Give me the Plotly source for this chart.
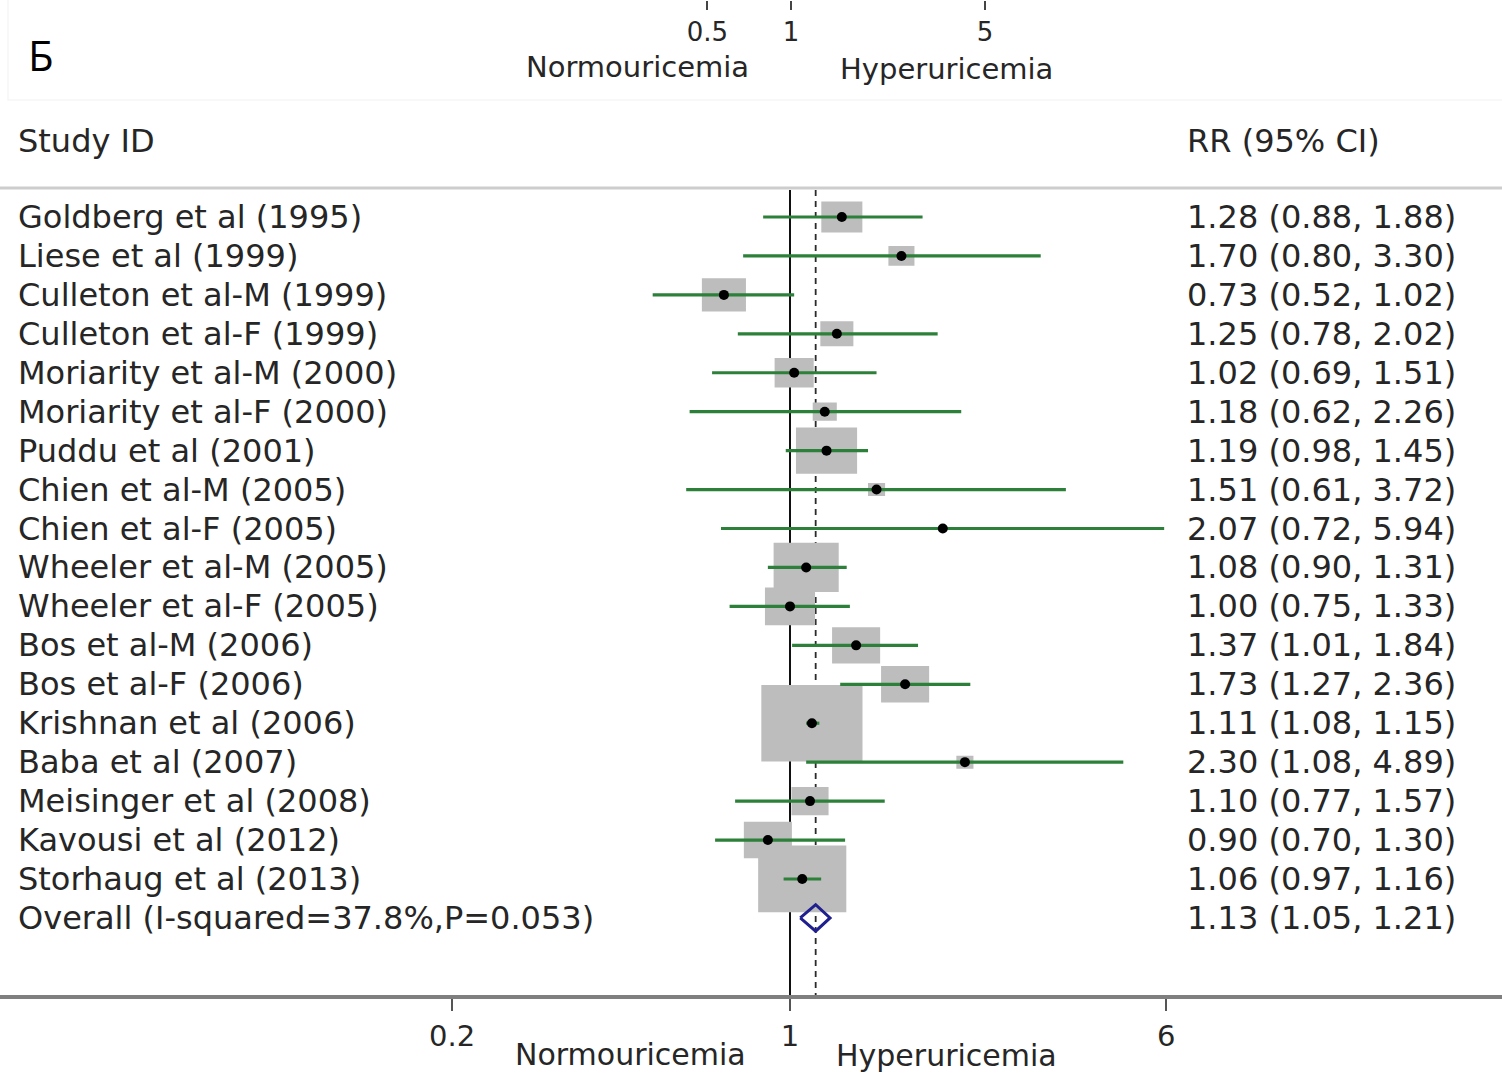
import math
import plotly.graph_objects as go

# ---- study data ----
studies = [
    "Goldberg et al (1995)", "Liese et al (1999)", "Culleton et al-M (1999)",
    "Culleton et al-F (1999)", "Moriarity et al-M (2000)", "Moriarity et al-F (2000)",
    "Puddu et al (2001)", "Chien et al-M (2005)", "Chien et al-F (2005)",
    "Wheeler et al-M (2005)", "Wheeler et al-F (2005)", "Bos et al-M (2006)",
    "Bos et al-F (2006)", "Krishnan et al (2006)", "Baba et al (2007)",
    "Meisinger et al (2008)", "Kavousi et al (2012)", "Storhaug et al (2013)",
]
rr = [1.28, 1.70, 0.73, 1.25, 1.02, 1.18, 1.19, 1.51, 2.07,
      1.08, 1.00, 1.37, 1.73, 1.11, 2.30, 1.10, 0.90, 1.06]
ci_low = [0.88, 0.80, 0.52, 0.78, 0.69, 0.62, 0.98, 0.61, 0.72,
          0.90, 0.75, 1.01, 1.27, 1.08, 1.08, 0.77, 0.70, 0.97]
ci_high = [1.88, 3.30, 1.02, 2.02, 1.51, 2.26, 1.45, 3.72, 5.94,
           1.31, 1.33, 1.84, 2.36, 1.15, 4.89, 1.57, 1.30, 1.16]
# study weights (%), shown as box areas
weights = [3.75, 1.51, 4.32, 2.43, 3.40, 1.29, 8.31, 0.65, 0.14,
           9.43, 5.58, 5.14, 5.14, 22.77, 0.65, 3.06, 5.14, 17.29]

overall_label = "Overall (I-squared=37.8%,P=0.053)"
overall_rr, overall_low, overall_high = 1.13, 1.05, 1.21

bottom_ticks = [0.2, 1, 6]
top_ticks = [0.5, 1, 5]
favour_left, favour_right = "Normouricemia", "Hyperuricemia"

# ---- page geometry ----
W, H = 1502, 1075
NULL_PX = 790          # horizontal pixel of RR = 1
PX_PER_LN = 210        # pixels per natural-log unit (main scale)
TOP_NULL_PX = 791
TOP_PX_PER_LN = 120.5  # scale of the upper strip
ROW0_PX = 217          # first study row
ROW_PX = 38.94         # row pitch
BOX_SCALE = 21.2       # box width in px per sqrt(weight %)
BOX_ASPECT = 1.32      # box width / height
FONT = "DejaVu Sans"
TXT = "#262626"
GREEN = "#2c8039"


def ln_to_log10(v):
    return v / math.log(10)


def row_of(py):
    return (py - ROW0_PX) / ROW_PX


def py_paper(py):
    return 1 - py / H


x_range = [ln_to_log10(-NULL_PX / PX_PER_LN), ln_to_log10((W - NULL_PX) / PX_PER_LN)]
x2_range = [ln_to_log10(-TOP_NULL_PX / TOP_PX_PER_LN), ln_to_log10((W - TOP_NULL_PX) / TOP_PX_PER_LN)]
y_range = [row_of(H), row_of(0)]

n = len(studies)
rows = list(range(n))
overall_row = n

fig = go.Figure()

# reference lines: null effect (solid) and pooled estimate (dashed)
y_top, y_bot = row_of(190), row_of(997)
fig.add_trace(go.Scatter(x=[1, 1], y=[y_top, y_bot], mode="lines",
                         line=dict(color="#111111", width=2), hoverinfo="skip"))
fig.add_trace(go.Scatter(x=[overall_rr, overall_rr], y=[y_top, y_bot], mode="lines",
                         line=dict(color="#2a2a2a", width=1.8, dash="6px,5px"), hoverinfo="skip"))

# weight boxes
bx, by = [], []
for r, w, i in zip(rr, weights, rows):
    side = BOX_SCALE * math.sqrt(w)
    hw = side / 2 / PX_PER_LN
    hh = side / BOX_ASPECT / 2 / ROW_PX
    x0, x1 = r * math.exp(-hw), r * math.exp(hw)
    bx += [x0, x1, x1, x0, x0, None]
    by += [i - hh, i - hh, i + hh, i + hh, i - hh, None]
fig.add_trace(go.Scatter(x=bx, y=by, mode="lines", fill="toself",
                         fillcolor="#bdbdbd", line=dict(width=0, color="#bdbdbd"),
                         hoverinfo="skip"))

# confidence intervals
cx, cy = [], []
for lo, hi, i in zip(ci_low, ci_high, rows):
    cx += [lo, hi, None]
    cy += [i, i, None]
fig.add_trace(go.Scatter(x=cx, y=cy, mode="lines",
                         line=dict(color=GREEN, width=3.2), hoverinfo="skip"))

# point estimates
fig.add_trace(go.Scatter(x=rr, y=rows, mode="markers",
                         marker=dict(color="black", size=10, symbol="circle"),
                         hoverinfo="skip"))

# pooled estimate diamond
dh = 0.34
fig.add_trace(go.Scatter(
    x=[overall_low, overall_rr, overall_high, overall_rr, overall_low],
    y=[overall_row, overall_row - dh, overall_row, overall_row + dh, overall_row],
    mode="lines", line=dict(color="#1f1f8f", width=3), hoverinfo="skip"))

# upper strip scale (carries the top axis)
fig.add_trace(go.Scatter(x=top_ticks, y=[row_of(-40)] * len(top_ticks), xaxis="x2",
                         mode="markers", marker=dict(opacity=0), hoverinfo="skip"))

annotations = []


def label(text, xpx, y, size=32, xanchor="left", yref="y", yanchor="middle", family=FONT, color=TXT):
    annotations.append(dict(text=text, x=xpx / W, xref="paper", y=y, yref=yref,
                            xanchor=xanchor, yanchor=yanchor, showarrow=False,
                            font=dict(family=family, size=size, color=color)))


# study rows and estimate column
for name, r, lo, hi, i in zip(studies, rr, ci_low, ci_high, rows):
    label(name, 16, i)
    label(f"{r:.2f} ({lo:.2f}, {hi:.2f})", 1185, i)
label(overall_label, 16, overall_row)
label(f"{overall_rr:.2f} ({overall_low:.2f}, {overall_high:.2f})", 1185, overall_row)

# column headers
label("Study ID", 16, row_of(141))
label("RR (95% CI)", 1185, row_of(141))

# favour labels below each axis
label(favour_left, 637, py_paper(67), size=29, xanchor="center", yref="paper")
label(favour_right, 946, py_paper(69), size=29, xanchor="center", yref="paper")
label(favour_left, 630, py_paper(1074), size=30, xanchor="center", yref="paper", yanchor="bottom")
label(favour_right, 946, py_paper(1075), size=30, xanchor="center", yref="paper", yanchor="bottom")

# panel letter
label("Б", 26, py_paper(55), size=42, yref="paper", family="Open Sans", color="#000000")

shapes = [
    # header rule
    dict(type="line", xref="paper", yref="paper", x0=0, x1=1,
         y0=py_paper(188), y1=py_paper(188), line=dict(color="#cdcdcd", width=3)),
    # faint frame of the upper strip
    dict(type="rect", xref="paper", yref="paper", x0=8 / W, x1=1.01,
         y0=py_paper(100), y1=1.01, line=dict(color="#f6f6f6", width=1.5)),
]

fig.update_layout(
    width=W, height=H,
    margin=dict(l=0, r=0, t=0, b=0),
    paper_bgcolor="white", plot_bgcolor="white",
    showlegend=False,
    annotations=annotations,
    shapes=shapes,
    xaxis=dict(
        type="log", range=x_range, domain=[0, 1],
        anchor="free", position=py_paper(997),
        showline=True, linecolor="#7f7f7f", linewidth=4,
        showgrid=False, zeroline=False,
        ticks="outside", ticklen=12, tickwidth=2, tickcolor="#555555",
        tickvals=bottom_ticks, ticktext=[f"{t:g}" for t in bottom_ticks],
        tickfont=dict(family=FONT, size=29, color=TXT),
        ticklabelstandoff=0,
    ),
    xaxis2=dict(
        type="log", range=x2_range, overlaying="x", side="bottom",
        anchor="free", position=1.0,
        showline=False, showgrid=False, zeroline=False,
        ticks="outside", ticklen=9, tickwidth=2, tickcolor="#444444",
        tickvals=top_ticks, ticktext=[f"{t:g}" for t in top_ticks],
        tickfont=dict(family=FONT, size=26, color=TXT),
        ticklabelstandoff=0,
    ),
    yaxis=dict(range=y_range, visible=False, domain=[0, 1]),
)

fig.write_html("out.html")
